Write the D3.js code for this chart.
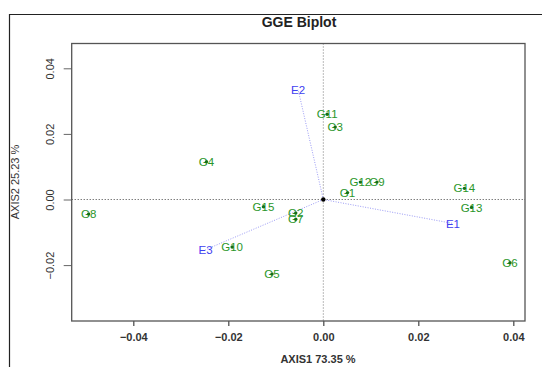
<!DOCTYPE html>
<html>
<head>
<meta charset="utf-8">
<script src="https://cdn.jsdelivr.net/npm/d3@7"></script>
<style>
  body { margin: 0; background: #fff; }
  svg { font-family: "Liberation Sans", Arial, sans-serif; }
</style>
</head>
<body>
<div id="chart"></div>
<script>
// genotype scores (AXIS1, AXIS2)
const genotypes = ["G1","G2","G3","G4","G5","G6","G7","G8","G9","G10","G11","G12","G13","G14","G15"];
const genoX = [0.0051,-0.0058,0.0025,-0.0246,-0.0108,0.0393,-0.0058,-0.0494,0.0113,-0.0192,0.0008,0.0078,0.0312,0.0297,-0.0126];
const genoY = [0.0021,-0.0041,0.0221,0.0115,-0.0227,-0.0193,-0.0060,-0.0044,0.0053,-0.0145,0.0260,0.0053,-0.0024,0.0034,-0.0022];

// environment vectors
const envs = ["E1","E2","E3"];
const envX = [0.0273,-0.0053,-0.0248];
const envY = [-0.0073,0.0335,-0.0153];

const xTicks = [-0.04,-0.02,0,0.02,0.04];
const yTicks = [-0.02,0,0.02,0.04];

const W = 542, H = 367;
const margin = {top: 43.5, right: 17, bottom: 46, left: 71.7};
const w = W - margin.left - margin.right;
const h = H - margin.top - margin.bottom;

let svg = d3.select("#chart").append("svg")
            .attr("width", W)
            .attr("height", H);

// outer frame (runs off the right / bottom edge)
svg.append("path")
   .attr("d", "M9.5," + (H + 5) + "V14.5H" + (W + 5))
   .attr("fill", "none")
   .attr("stroke", "#222")
   .attr("stroke-width", 1.2);

svg.append("text")
   .attr("x", 299).attr("y", 27)
   .attr("text-anchor", "middle")
   .attr("font-weight", "bold")
   .attr("font-size", 14)
   .attr("fill", "#222")
   .text("GGE Biplot");

let xScale = d3.scaleLinear().domain([-0.05297, 0.04246]).range([0, w]);
let yScale = d3.scaleLinear().domain([-0.03704, 0.04756]).range([h, 0]);
const fmt = d3.format(".2f");

let g = svg.append("g").attr("transform", "translate(" + margin.left + "," + margin.top + ")");

// axes
let xAxis = d3.axisBottom(xScale).tickValues(xTicks).tickSize(5).tickPadding(6).tickFormat(fmt);
let gx = g.append("g").attr("transform", "translate(0," + h + ")").call(xAxis);
gx.select(".domain").remove();
gx.selectAll("line").attr("stroke", "#444").attr("stroke-width", 1.2);
gx.selectAll("text").attr("font-size", 11).attr("fill", "#333").attr("font-weight", "bold").attr("dy", "0.8em");

let yAxis = d3.axisLeft(yScale).tickValues(yTicks).tickSize(8).tickFormat(fmt);
let gy = g.append("g").call(yAxis);
gy.select(".domain").remove();
gy.selectAll("line").attr("stroke", "#666").attr("stroke-width", 1);
gy.selectAll("text")
  .attr("font-size", 11)
  .attr("fill", "#333")
  .attr("text-anchor", "middle")
  .attr("transform", "translate(-22,0) rotate(-90)")
  .attr("x", 0).attr("y", 0).attr("dy", "0.35em");

svg.append("text")
   .attr("x", 318).attr("y", 363)
   .attr("text-anchor", "middle")
   .attr("font-size", 11)
   .attr("font-weight", "bold")
   .attr("fill", "#333")
   .text("AXIS1 73.35 %");

svg.append("text")
   .attr("transform", "translate(19,182) rotate(-90)")
   .attr("text-anchor", "middle")
   .attr("font-size", 11)
   .attr("fill", "#333")
   .text("AXIS2 25.23 %");

// reference lines through origin
g.append("line")
 .attr("x1", 0).attr("x2", w)
 .attr("y1", yScale(0)).attr("y2", yScale(0))
 .attr("stroke", "#444").attr("stroke-dasharray", "1,2");
g.append("line")
 .attr("x1", xScale(0)).attr("x2", xScale(0))
 .attr("y1", 0).attr("y2", h)
 .attr("stroke", "#777").attr("stroke-dasharray", "1,2");

// environment vectors
envs.forEach((e, i) => {
    g.append("line")
     .attr("x1", xScale(0)).attr("y1", yScale(0))
     .attr("x2", xScale(envX[i])).attr("y2", yScale(envY[i]))
     .attr("stroke", "#9b9bf5").attr("stroke-dasharray", "1,1.5");
});

// box
g.append("rect")
 .attr("width", w).attr("height", h)
 .attr("fill", "none").attr("stroke", "#555").attr("stroke-width", 1.3);

// origin
g.append("circle")
 .attr("cx", xScale(0)).attr("cy", yScale(0)).attr("r", 2.2)
 .attr("fill", "#000");

// genotypes
genotypes.forEach((name, i) => {
    g.append("text")
     .attr("x", xScale(genoX[i])).attr("y", yScale(genoY[i]))
     .attr("text-anchor", "middle").attr("dy", "0.36em")
     .attr("font-size", 11.5)
     .attr("fill", "#2a962a")
     .text(name);
    g.append("circle")
     .attr("cx", xScale(genoX[i])).attr("cy", yScale(genoY[i])).attr("r", 1.7)
     .attr("fill", "#157015");
});

envs.forEach((e, i) => {
    g.append("text")
     .attr("x", xScale(envX[i])).attr("y", yScale(envY[i]))
     .attr("text-anchor", "middle").attr("dy", "0.36em")
     .attr("font-size", 11.5)
     .attr("fill", "#4040f0")
     .text(e);
});
</script>
</body>
</html>
